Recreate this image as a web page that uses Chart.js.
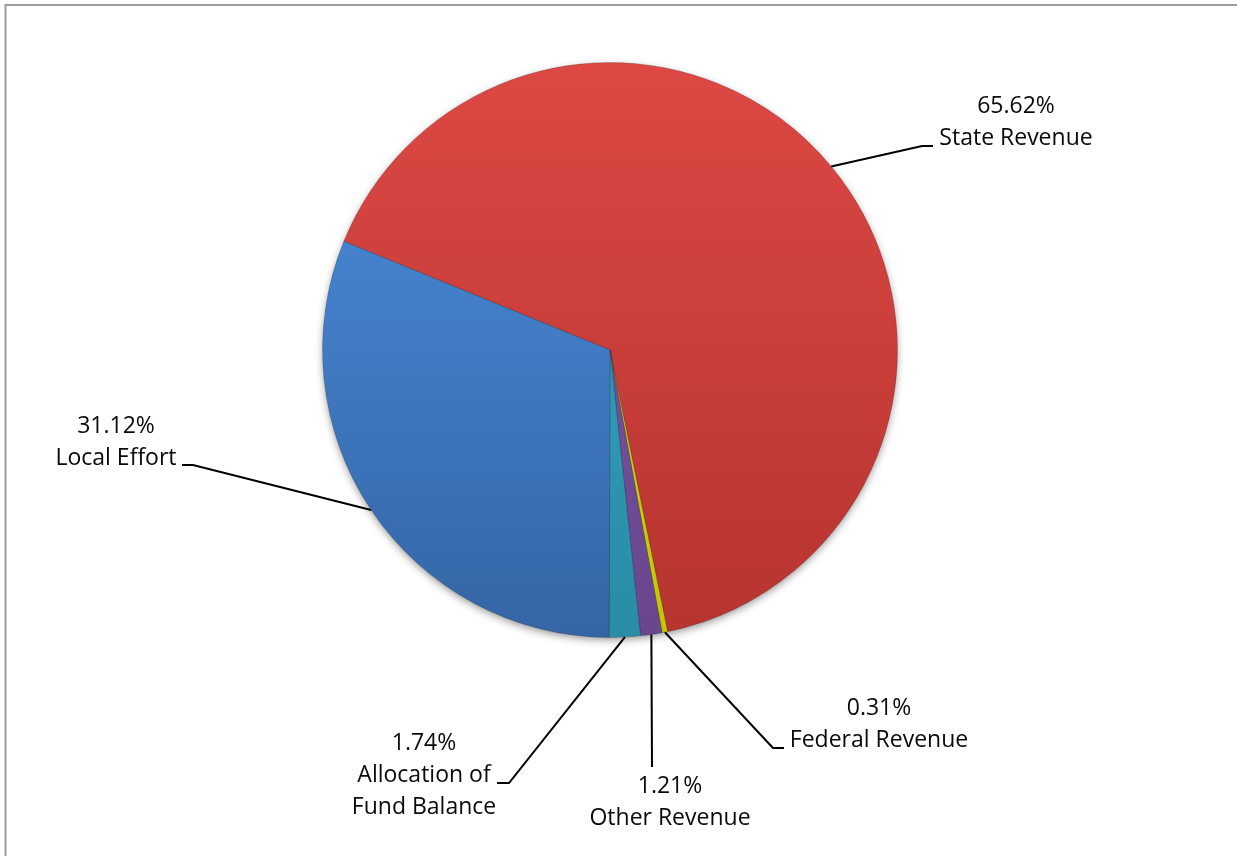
<html>
  <head>
    <script src="https://cdn.jsdelivr.net/npm/chart.js@4.4.1/dist/chart.umd.min.js"></script>
    <style>
      body {
        margin: 0;
        background: #fff;
        overflow: hidden;
      }
    </style>
  </head>
  <body>
    <canvas id="pie" width="1237" height="856"></canvas>
    <script>
      // revenue sources, drawn clockwise in this order
      const categories = [
        "State Revenue",
        "Federal Revenue",
        "Other Revenue",
        "Allocation of Fund Balance",
        "Local Effort",
      ];
      const shares = [65.62, 0.31, 1.21, 1.74, 31.12];

      // label lines as Excel wrapped them
      const label_lines = [
        ["State Revenue"],
        ["Federal Revenue"],
        ["Other Revenue"],
        ["Allocation of", "Fund Balance"],
        ["Local Effort"],
      ];

      // top / bottom colours of each slice gradient
      const colors = [
        { top: "#dd4844", bottom: "#b6342f" },
        { top: "#e4e41c", bottom: "#c6c600" },
        { top: "#8058a6", bottom: "#6a468f" },
        { top: "#33a9c6", bottom: "#2a8ca5" },
        { top: "#4b90e0", bottom: "#3565a5" },
      ];

      // where each label sits: text centre x, first baseline y, leader knee and end
      const label_spots = [
        { x: 1016, y: 113, knee: [922, 146], end: [933, 146] },
        { x: 879, y: 715, knee: [773, 748], end: [784, 748] },
        { x: 670, y: 793, knee: [652, 767], end: [652, 767] },
        { x: 424, y: 750, knee: [509, 783], end: [497, 783] },
        { x: 116, y: 433, knee: [193, 465], end: [182, 465] },
      ];

      const slice_fill = (ctx) => {
        const area = ctx.chart.chartArea;
        const col = colors[ctx.dataIndex];
        if (!area) {
          return col.top;
        }
        const g = ctx.chart.ctx.createLinearGradient(0, area.top, 0, area.bottom);
        g.addColorStop(0, col.top);
        g.addColorStop(1, col.bottom);
        return g;
      };

      const frame_plugin = {
        id: "frame",
        beforeDraw: (chart) => {
          const ctx = chart.ctx;
          ctx.save();
          ctx.strokeStyle = "#9c9c9c";
          ctx.lineWidth = 2;
          ctx.beginPath();
          ctx.moveTo(5.5, chart.height);
          ctx.lineTo(5.5, 5);
          ctx.lineTo(chart.width, 5);
          ctx.stroke();
          ctx.restore();
        },
        beforeDatasetsDraw: (chart) => {
          // soft shadow under the whole pie
          const arc = chart.getDatasetMeta(0).data[0];
          const ctx = chart.ctx;
          ctx.save();
          ctx.shadowColor = "rgba(0,0,0,0.45)";
          ctx.shadowBlur = 8;
          ctx.shadowOffsetY = 3;
          ctx.fillStyle = "#888";
          ctx.beginPath();
          ctx.arc(arc.x, arc.y, arc.outerRadius - 1, 0, Math.PI * 2);
          ctx.fill();
          ctx.restore();
        },
      };

      const labels_plugin = {
        id: "slice_labels",
        afterDatasetsDraw: (chart) => {
          const ctx = chart.ctx;
          const meta = chart.getDatasetMeta(0);
          ctx.save();
          meta.data.forEach((arc, i) => {
            const spot = label_spots[i];
            const mid = (arc.startAngle + arc.endAngle) / 2;
            const sx = arc.x + Math.cos(mid) * arc.outerRadius;
            const sy = arc.y + Math.sin(mid) * arc.outerRadius;
            ctx.strokeStyle = "#000";
            ctx.lineWidth = 2;
            ctx.beginPath();
            ctx.moveTo(sx, sy);
            ctx.lineTo(spot.knee[0], spot.knee[1]);
            ctx.lineTo(spot.end[0], spot.end[1]);
            ctx.stroke();

            ctx.fillStyle = "#0a0a0a";
            ctx.font = "23px 'Open Sans'";
            ctx.textAlign = "center";
            ctx.textBaseline = "alphabetic";
            const lines = [shares[i].toFixed(2) + "%", ...label_lines[i]];
            lines.forEach((line, k) => {
              ctx.fillText(line, spot.x, spot.y + k * 32);
            });
          });
          ctx.restore();
        },
      };

      new Chart(document.getElementById("pie"), {
        type: "pie",
        data: {
          labels: categories,
          datasets: [
            {
              data: shares,
              backgroundColor: slice_fill,
              borderColor: "rgba(0,0,0,0.18)",
              borderWidth: 1,
            },
          ],
        },
        options: {
          responsive: false,
          animation: false,
          rotation: -67.8,
          layout: {
            padding: { top: 62, bottom: 218, left: 0, right: 17 },
          },
          plugins: {
            legend: { display: false },
            tooltip: { enabled: false },
          },
        },
        plugins: [frame_plugin, labels_plugin],
      });
    </script>
  </body>
</html>
